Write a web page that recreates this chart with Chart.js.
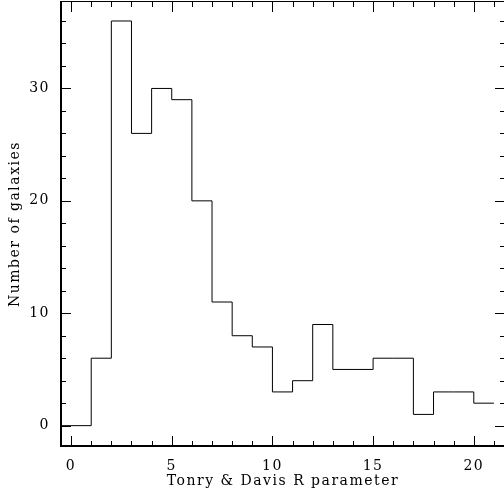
<!DOCTYPE html>
<html>
<head>
<meta charset="utf-8">
<script src="https://cdn.jsdelivr.net/npm/chart.js@4.4.0/dist/chart.umd.min.js"></script>
<style>
  html, body { margin: 0; padding: 0; background: #fff; overflow: hidden; }
  #chart { display: block; }
</style>
</head>
<body>
<canvas id="chart" width="512" height="493"></canvas>
<script>
// histogram bins: left edge of each bin and its count
var binStarts = [-1, 0, 1, 2, 3, 4, 5, 6, 7, 8, 9, 10, 11, 12, 13, 14, 15, 16, 17, 18, 19, 20];
var counts    = [ 0, 0, 6, 36, 26, 30, 29, 20, 11, 8, 7, 3, 4, 9, 5, 5, 6, 6, 1, 3, 3, 2];
var lastBinEnd = 21;

var xTickLabels = [0, 5, 10, 15, 20];
var yTickLabels = [0, 10, 20, 30];

var font_name = "'DejaVu Serif', serif";
var ink = '#000000';
var spacing = '1.5px';

var points = binStarts.map(function (x, i) { return {x: x, y: counts[i]}; });
points.push({x: lastBinEnd, y: counts[counts.length - 1]});

// wider text, closer to the original plot font
var wideText = {
    id: 'wideText',
    beforeUpdate: function (chart) { chart.ctx.letterSpacing = spacing; },
    beforeDraw: function (chart) { chart.ctx.letterSpacing = spacing; }
};

// inward tick marks on all four sides plus the frame
var frameTicks = {
    id: 'frameTicks',
    afterDraw: function (chart) {
        var c = chart.ctx;
        var a = chart.chartArea;
        var xs = chart.scales.x;
        var ys = chart.scales.y;
        c.save();
        c.strokeStyle = ink;
        c.lineWidth = 1;
        c.beginPath();
        for (var v = 0; v <= 21; v++) {
            var px = Math.round(xs.getPixelForValue(v)) + 0.5;
            var len = (v % 5 === 0) ? 10 : 5;
            c.moveTo(px, a.bottom); c.lineTo(px, a.bottom - len);
            c.moveTo(px, a.top); c.lineTo(px, a.top + len);
        }
        for (var w = 0; w <= 36; w += 2) {
            var py = Math.round(ys.getPixelForValue(w)) + 0.5;
            var len2 = (w % 10 === 0) ? 10 : 5;
            c.moveTo(a.left, py); c.lineTo(a.left + len2, py);
            c.moveTo(a.right, py); c.lineTo(a.right - len2, py);
        }
        // top and right frame, thin
        c.moveTo(a.left, a.top - 0.5); c.lineTo(a.right, a.top - 0.5);
        c.moveTo(a.right + 0.5, a.top); c.lineTo(a.right + 0.5, a.bottom);
        c.stroke();
        // left and bottom frame, thicker
        c.lineWidth = 2;
        c.beginPath();
        c.moveTo(a.left, a.top - 1); c.lineTo(a.left, a.bottom + 1);
        c.moveTo(a.left - 1, a.bottom); c.lineTo(a.right + 1, a.bottom);
        c.stroke();
        c.restore();
    }
};

var cfg = {
    type: 'line',
    data: {
        datasets: [{
            data: points,
            stepped: 'before',
            borderColor: ink,
            borderWidth: 1,
            pointRadius: 0,
            fill: false
        }]
    },
    options: {
        responsive: false,
        animation: false,
        layout: { padding: { left: 0, right: 7, top: 2, bottom: 0 } },
        scales: {
            x: {
                type: 'linear',
                min: -0.5,
                max: 21.55,
                afterFit: function (s) { s.height = 47; s.paddingLeft = 0; s.paddingRight = 0; },
                afterBuildTicks: function (s) {
                    s.ticks = xTickLabels.map(function (v) { return {value: v}; });
                },
                grid: { display: false, drawTicks: false },
                border: { display: false },
                ticks: {
                    color: ink,
                    padding: 12,
                    maxRotation: 0,
                    font: { family: font_name, size: 14 }
                },
                title: {
                    display: true,
                    text: 'Tonry & Davis R parameter',
                    color: ink,
                    font: { family: font_name, size: 14 },
                    padding: { top: 0, bottom: 3 }
                }
            },
            y: {
                type: 'linear',
                min: -1.81,
                max: 37.69,
                afterFit: function (s) { s.width = 61; s.paddingTop = 0; s.paddingBottom = 0; },
                afterBuildTicks: function (s) {
                    s.ticks = yTickLabels.map(function (v) { return {value: v}; });
                },
                grid: { display: false, drawTicks: false },
                border: { display: false },
                ticks: {
                    color: ink,
                    padding: 11,
                    font: { family: font_name, size: 14 }
                },
                title: {
                    display: true,
                    text: 'Number of galaxies',
                    color: ink,
                    font: { family: font_name, size: 14 },
                    padding: { top: 7, bottom: 0 }
                }
            }
        },
        plugins: {
            legend: { display: false },
            tooltip: { enabled: false }
        }
    },
    plugins: [wideText, frameTicks]
};

var chart = new Chart(document.getElementById('chart'), cfg);
</script>
</body>
</html>
